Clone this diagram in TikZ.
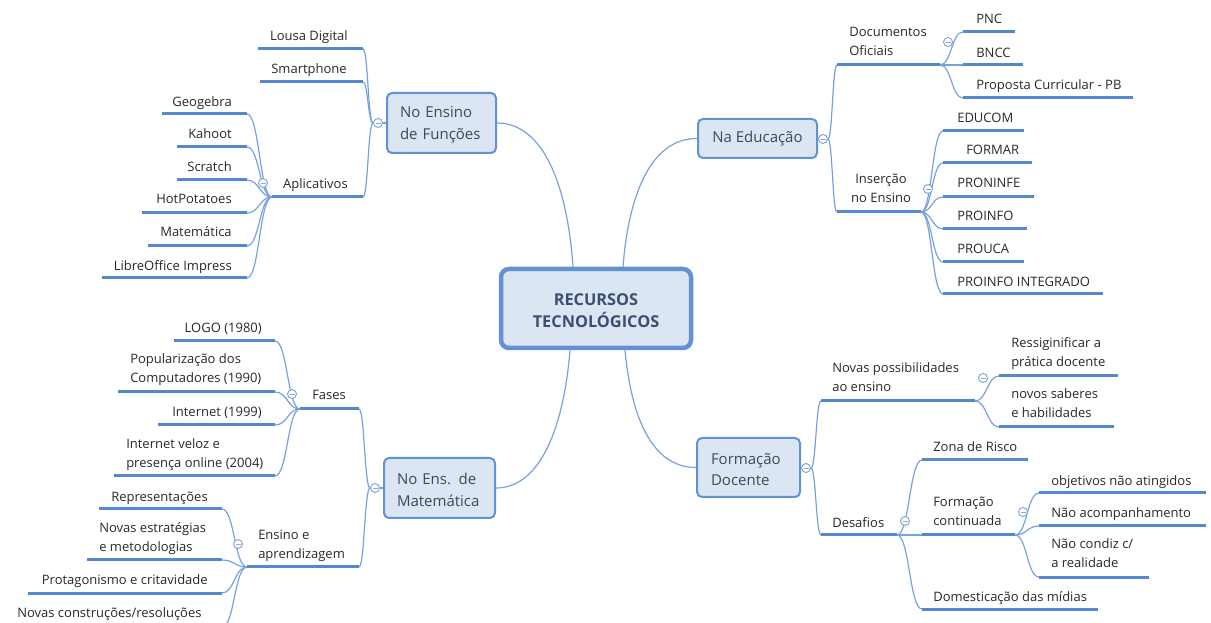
\documentclass[tikz,border=0pt]{standalone}
\usepackage{fontspec}
\setmainfont{Open Sans}
\usetikzlibrary{calc,backgrounds}
\newlength\upx \setlength\upx{0.75pt}
\definecolor{barblue}{RGB}{86,136,207}
\definecolor{lineblue}{RGB}{120,162,222}
\definecolor{boxfill}{RGB}{220,230,242}
\definecolor{boxdraw}{RGB}{98,146,214}
\definecolor{boxtext}{RGB}{64,72,88}
\definecolor{ctext}{RGB}{60,78,115}
\definecolor{ttext}{RGB}{40,40,40}
\tikzset{
 bar/.style={draw=barblue, line width=3\upx},
 conn/.style={draw=lineblue, line width=1.2\upx},
 branch/.style={to path={let \p1=(\tikztostart),\p2=(\tikztotarget) in .. controls ({(\x1+\x2)/2},\y1) and ({(\x1+\x2)/2},\y2) .. (\tikztotarget)}},
 lbl/.style={inner sep=0pt, yshift=-2\upx, text=ttext, font=\fontsize{9.75pt}{14.25pt}\selectfont, align=left, execute at begin node=\strut},
 mainbox/.style={draw=boxdraw, fill=boxfill, line width=2\upx, rounded corners=5\upx, inner sep=0pt, text=boxtext, font=\fontsize{11.25pt}{16pt}\selectfont, execute at begin node=\strut},
 coll/.style={circle, draw=lineblue, fill=white, line width=0.9\upx, minimum size=9\upx, inner sep=0pt,
   path picture={\draw[draw=gray!70, line width=0.9\upx] ([xshift=-2.5\upx]path picture bounding box.center) -- ([xshift=2.5\upx]path picture bounding box.center);}},
}
\newcommand\tbar[4]{\coordinate (#1W) at (#2,#4); \coordinate (#1E) at (#3,#4); \draw[bar] (#1W) -- (#1E);}
\begin{document}
\begin{tikzpicture}[x=0.75pt,y=-0.75pt]
\useasboundingbox (0,0) rectangle (1211,623);
\clip (0,0) rectangle (1211,623);
% central and main boxes
\node[draw=boxdraw, fill=boxfill, line width=4.5\upx, rounded corners=8\upx, minimum width=190\upx, minimum height=79\upx, inner sep=0pt] (root) at (596,308.5) {};
\node[inner sep=0pt, font=\bfseries\fontsize{12.25pt}{16.5pt}\selectfont, text=ctext, align=center] (rootText) at (596,310.5) {RECURSOS\\TECNOLÓGICOS};
\node[mainbox, minimum width=109\upx, minimum height=60\upx, text width=83\upx, align=left] (fun) at (441.5,123) {No Ensino\\de Funções};
\node[mainbox, minimum width=119\upx, minimum height=39\upx, align=center] (edu) at (757.5,138.5) {Na Educação};
\node[mainbox, minimum width=111\upx, minimum height=60\upx, text width=85\upx, align=left] (mat) at (439.5,488) {No Ens. de\\Matemática};
\node[mainbox, minimum width=103\upx, minimum height=59\upx, text width=75\upx, align=left] (form) at (748.5,467.5) {Formação\\Docente};
% bars
\tbar{lousa}{258}{363}{49}
\tbar{smart}{260}{363}{82}
\tbar{apli}{272}{363}{197}
\tbar{geo}{162}{247}{114}
\tbar{kah}{177}{247}{147}
\tbar{scr}{177}{247}{180}
\tbar{hot}{142}{247}{213}
\tbar{mtc}{148}{247}{246}
\tbar{lib}{102}{247}{278}
\tbar{doc}{837}{940}{65}
\tbar{pnc}{963}{1015}{32}
\tbar{bncc}{963}{1023}{65}
\tbar{prop}{963}{1133}{98}
\tbar{ins}{837}{921}{212}
\tbar{educ}{943}{1024}{131}
\tbar{frm}{943}{1032}{163}
\tbar{pronf}{943}{1034}{197}
\tbar{proinf}{943}{1027}{229}
\tbar{prouca}{943}{1024}{262}
\tbar{pint}{943}{1103}{294}
\tbar{fas}{300}{359}{409}
\tbar{logo}{174}{275}{341}
\tbar{pop}{118}{275}{392}
\tbar{int}{158}{275}{425}
\tbar{intv}{114}{275}{476}
\tbar{ens}{247}{359}{567}
\tbar{rep}{99}{222}{509}
\tbar{nov}{87}{222}{560}
\tbar{prot}{28}{222}{593}
\tbar{ncon}{10}{222}{627}
\tbar{npos}{821}{975}{401}
\tbar{ress}{999}{1118}{376}
\tbar{nsab}{999}{1114}{427}
\tbar{des}{821}{897}{535}
\tbar{zona}{922}{1028}{460}
\tbar{fcont}{922}{1015}{535}
\tbar{obj}{1039}{1206}{493}
\tbar{nac}{1039}{1206}{526}
\tbar{ncond}{1039}{1149}{577}
\tbar{dom}{922}{1098}{609}
% labels
\node[lbl, anchor=east] (tLousa) at (348,35) {Lousa Digital};
\node[lbl, anchor=east] (tSmart) at (347,68) {Smartphone};
\node[lbl, anchor=east] (tApli) at (348,183) {Aplicativos};
\node[lbl, anchor=east] (tGeo) at (232,101) {Geogebra};
\node[lbl, anchor=east] (tKah) at (232,133) {Kahoot};
\node[lbl, anchor=east] (tScr) at (232,166) {Scratch};
\node[lbl, anchor=east] (tHot) at (232,198) {HotPotatoes};
\node[lbl, anchor=east] (tMtc) at (232,231) {Matemática};
\node[lbl, anchor=east] (tLib) at (232,265) {LibreOffice Impress};
\node[lbl, anchor=west] (tDoc) at (849,42.5) {Documentos\\\strut Oficiais};
\node[lbl, anchor=west] (tPnc) at (976,18) {PNC};
\node[lbl, anchor=west] (tBncc) at (976,52) {BNCC};
\node[lbl, anchor=west] (tProp) at (976,84) {Proposta Curricular - PB};
\node[lbl, align=center] (tIns) at (881,189) {Inserção\\\strut no Ensino};
\node[lbl, anchor=west] (tEduc) at (957,117) {EDUCOM};
\node[lbl, anchor=west] (tFrm) at (966,149) {FORMAR};
\node[lbl, anchor=west] (tPronf) at (957,182) {PRONINFE};
\node[lbl, anchor=west] (tProinf) at (957,215) {PROINFO};
\node[lbl, anchor=west] (tProuca) at (957,248) {PROUCA};
\node[lbl, anchor=west] (tPint) at (957,281) {PROINFO INTEGRADO};
\node[lbl, anchor=west] (tFas) at (312,394) {Fases};
\node[lbl, anchor=east] (tLogo) at (262,327) {LOGO (1980)};
\node[lbl, anchor=west] (tPop) at (130,368.5) {Popularização dos\\\strut Computadores (1990)};
\node[lbl, anchor=east] (tInt) at (262,411) {Internet (1999)};
\node[lbl, anchor=west] (tIntv) at (126,453.5) {Internet veloz e\\\strut presença online (2004)};
\node[lbl, anchor=west] (tEns) at (258,545) {Ensino e\\\strut aprendizagem};
\node[lbl, anchor=east] (tRep) at (208,496) {Representações};
\node[lbl, anchor=west] (tNov) at (99,537.5) {Novas estratégias\\\strut e metodologias};
\node[lbl, anchor=east] (tProt) at (208,579) {Protagonismo e critavidade};
\node[lbl, anchor=west] (tNcon) at (17,612) {Novas construções/resoluções};
\node[lbl, anchor=west] (tNpos) at (832,378) {Novas possibilidades\\\strut ao ensino};
\node[lbl, anchor=west] (tRess) at (1011,352.5) {Ressiginificar a\\\strut prática docente};
\node[lbl, anchor=west] (tNsab) at (1011,404) {novos saberes\\\strut e habilidades};
\node[lbl, anchor=west] (tDes) at (832,522) {Desafios};
\node[lbl, anchor=west] (tZona) at (933,446) {Zona de Risco};
\node[lbl, anchor=west] (tFcont) at (933,512.5) {Formação\\\strut continuada};
\node[lbl, anchor=west] (tObj) at (1051,480) {objetivos não atingidos};
\node[lbl, anchor=west] (tNac) at (1051,512) {Não acompanhamento};
\node[lbl, anchor=west] (tNcond) at (1051,554) {Não condiz c/\\\strut a realidade};
\node[lbl, anchor=west] (tDom) at (933,596) {Domesticação das mídias};
% collapse circles
\node[coll] (cF) at (378,123) {};
\node[coll] (cE) at (823,139) {};
\node[coll] (cM) at (375,488) {};
\node[coll] (cD) at (806,468) {};
\node[coll] (cApl) at (263,183) {};
\node[coll] (cDoc) at (948,42) {};
\node[coll] (cIns) at (928,189) {};
\node[coll] (cFas) at (292,394) {};
\node[coll] (cEns) at (238,544) {};
\node[coll] (cNov) at (983,378) {};
\node[coll] (cDes) at (905,521) {};
\node[coll] (cFc) at (1023,512) {};
% connectors
\begin{scope}[on background layer]
\draw[conn] ([xshift=-23\upx]root.north) .. controls +(-6,-85) and +(45,0) .. (fun.east);
\draw[conn] ([xshift=27\upx]root.north) .. controls +(6,-75) and +(-45,0) .. (edu.west);
\draw[conn] ([xshift=-26\upx]root.south) .. controls +(-6,75) and +(45,0) .. (mat.east);
\draw[conn] ([xshift=29\upx]root.south) .. controls +(6,65) and +(-45,0) .. (form.west);
\draw[conn] (fun.west) -- (cF.east);
\draw[conn] (edu.east) -- (cE.west);
\draw[conn] (mat.west) -- (cM.east);
\draw[conn] (form.east) -- (cD.west);
\foreach \t in {lousaE,smartE,apliE} \draw[conn] (cF.west) to[branch] (\t);
\foreach \t in {geoE,kahE,scrE,hotE,mtcE,libE} \draw[conn] (apliW) to[branch] (\t);
\foreach \t in {docW,insW} \draw[conn] (cE.east) to[branch] (\t);
\foreach \t in {pncW,bnccW,propW} \draw[conn] (docE) to[branch] (\t);
\foreach \t in {educW,frmW,pronfW,proinfW,proucaW,pintW} \draw[conn] (insE) to[branch] (\t);
\foreach \t in {fasE,ensE} \draw[conn] (cM.west) to[branch] (\t);
\foreach \t in {logoE,popE,intE,intvE} \draw[conn] (fasW) to[branch] (\t);
\foreach \t in {repE,novE,protE,nconE} \draw[conn] (ensW) to[branch] (\t);
\foreach \t in {nposW,desW} \draw[conn] (cD.east) to[branch] (\t);
\foreach \t in {ressW,nsabW} \draw[conn] (nposE) to[branch] (\t);
\foreach \t in {zonaW,fcontW,domW} \draw[conn] (desE) to[branch] (\t);
\foreach \t in {objW,nacW,ncondW} \draw[conn] (fcontE) to[branch] (\t);
\end{scope}
\end{tikzpicture}
\end{document}
